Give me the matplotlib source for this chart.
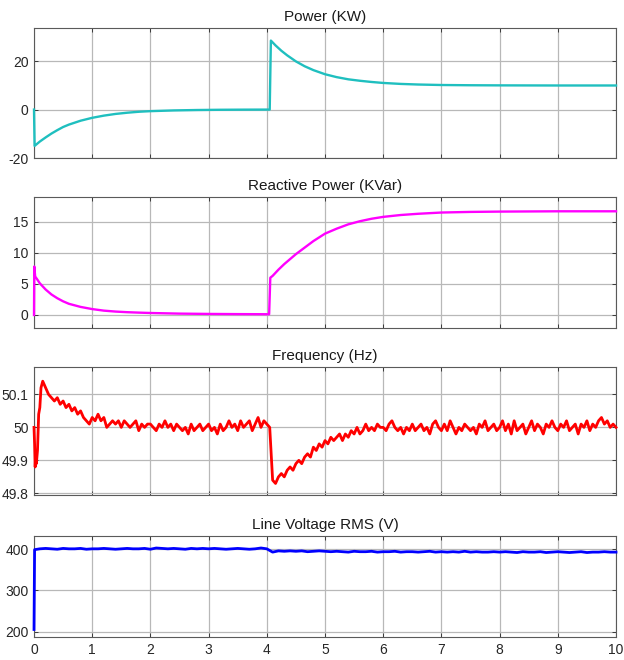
import matplotlib
matplotlib.use('Agg')
import matplotlib.pyplot as plt
import numpy as np

plt.rcParams['font.family'] = ['Liberation Sans', 'DejaVu Sans']

# Power (KW)
power_t = [0, 0.01, 0.1, 0.2, 0.3, 0.4, 0.5, 0.6, 0.8, 1.0, 1.2, 1.4, 1.6, 1.8, 2.0, 2.4, 2.8, 3.2, 3.6,
           4.05, 4.07, 4.15, 4.25, 4.35, 4.5, 4.65, 4.8, 5.0, 5.2, 5.4, 5.6, 5.8, 6.0, 6.3, 6.6, 7.0, 7.5,
           8.0, 9.0, 10.0]
power_v = [0, -15.0, -13.2, -11.5, -9.9, -8.5, -7.2, -6.2, -4.6, -3.4, -2.5, -1.8, -1.3, -0.9, -0.65,
           -0.35, -0.18, -0.08, -0.03,
           0, 28.5, 26.5, 24.3, 22.4, 19.9, 17.9, 16.3, 14.6, 13.4, 12.5, 11.9, 11.4, 11.0, 10.6, 10.35,
           10.15, 10.05, 10.0, 9.95, 9.95]

# Reactive power (KVar)
react_t = [0, 0.005, 0.02, 0.05, 0.1, 0.2, 0.3, 0.4, 0.5, 0.6, 0.8, 1.0, 1.2, 1.4, 1.6, 1.8, 2.0, 2.5,
           3.0, 3.5, 4.04, 4.06, 4.1, 4.2, 4.3, 4.4, 4.5, 4.6, 4.8, 5.0, 5.2, 5.4, 5.6, 5.8, 6.0, 6.3,
           6.6, 7.0, 7.5, 8.0, 9.0, 10.0]
react_v = [0, 7.8, 6.2, 5.8, 5.1, 4.1, 3.3, 2.7, 2.2, 1.8, 1.3, 0.95, 0.7, 0.55, 0.45, 0.38, 0.32, 0.22,
           0.17, 0.14, 0.12, 6.0, 6.3, 7.3, 8.2, 9.0, 9.8, 10.5, 11.9, 13.1, 13.9, 14.6, 15.1, 15.5, 15.8,
           16.1, 16.3, 16.5, 16.6, 16.65, 16.7, 16.7]

# Frequency (Hz): first transient, then samples every 0.05 s
freq_start_t = [0.0, 0.01, 0.02, 0.03, 0.04, 0.06, 0.08, 0.1, 0.12]
freq_start_v = [50.00, 49.95, 49.88, 49.92, 49.89, 49.93, 50.04, 50.06, 50.12]
freq_t = np.round(np.arange(0.15, 10.001, 0.05), 2)
freq_v = [50.14, 50.12, 50.10, 50.09, 50.08, 50.09, 50.07,
          50.08, 50.06, 50.07, 50.05, 50.06, 50.04, 50.05, 50.03, 50.02, 50.01,
          50.03, 50.02, 50.04, 50.02, 50.03, 50.00, 50.01, 50.02, 50.01, 50.02,
          50.00, 50.02, 50.01, 50.00, 50.01, 50.02, 49.99, 50.01, 50.00, 50.01,
          50.01, 50.00, 49.99, 50.01, 50.00, 50.02, 50.00, 50.01, 49.99, 50.01,
          50.00, 49.99, 50.00, 49.98, 50.01, 49.99, 50.00, 50.01, 49.99, 50.00,
          50.01, 49.99, 50.00, 49.98, 50.01, 49.99, 50.00, 50.02, 50.00, 50.01,
          49.99, 50.02, 50.00, 50.01, 50.02, 49.99, 50.01, 50.03, 50.00, 50.02,
          50.01, 50.00, 49.84, 49.83, 49.85, 49.86, 49.85, 49.87, 49.88, 49.87,
          49.89, 49.90, 49.89, 49.91, 49.92, 49.91, 49.94, 49.93, 49.95, 49.94,
          49.96, 49.95, 49.97, 49.96, 49.97, 49.98, 49.96, 49.98, 49.97, 49.99,
          49.98, 50.00, 49.98, 49.99, 50.01, 49.99, 50.00, 49.99, 50.01, 50.00,
          50.00, 49.99, 50.01, 50.02, 50.00, 49.99, 50.00, 49.98, 50.00, 49.99,
          50.01, 49.99, 50.00, 50.01, 49.99, 50.00, 49.98, 50.01, 50.02, 50.00,
          49.99, 50.01, 49.99, 50.02, 50.00, 49.98, 50.00, 49.99, 50.01, 50.00,
          49.99, 50.00, 49.98, 50.01, 50.00, 50.02, 49.99, 50.00, 50.01, 49.99,
          50.00, 50.02, 49.99, 50.01, 49.98, 50.02, 49.99, 50.00, 50.01, 49.98,
          50.00, 50.02, 49.99, 50.01, 50.00, 49.98, 50.01, 50.00, 50.02, 50.00,
          49.99, 50.01, 50.00, 50.02, 49.99, 50.00, 50.01, 49.98, 50.01, 50.00,
          50.02, 49.99, 50.01, 50.00, 50.02, 50.03, 50.01, 50.02, 50.00, 50.01,
          50.00]

# Line voltage RMS (V)
volt_t = np.concatenate([[0.0, 0.01], np.round(np.arange(0.1, 10.001, 0.1), 2)])
volt_v = [205, 399,
          401, 402, 401, 400, 402, 401, 401, 402, 400, 401,
          401, 402, 401, 400, 401, 402, 401, 401, 402, 400,
          403, 402, 401, 402, 401, 400, 402, 401, 402, 401,
          402, 401, 400, 401, 402, 401, 400, 401, 403, 401,
          393, 396, 395, 396, 395, 396, 394, 395, 396, 395,
          394, 395, 394, 393, 395, 394, 394, 395, 393, 394,
          394, 395, 393, 394, 394, 393, 394, 395, 393, 394,
          393, 394, 393, 395, 393, 394, 393, 393, 394, 393,
          394, 393, 392, 394, 393, 393, 394, 392, 393, 394,
          393, 392, 393, 394, 392, 393, 393, 394, 393, 393]

panels = [
    ('Power (KW)', power_t, power_v, '#1fbfbf', (-20, 33.7), [-20, 0, 20], 1.7),
    ('Reactive Power (KVar)', react_t, react_v, '#ff00ff', (-2.1, 19), [0, 5, 10, 15], 1.7),
    ('Frequency (Hz)', np.concatenate([freq_start_t, freq_t]), freq_start_v + freq_v,
     '#ff0000', (49.795, 50.184), [49.8, 49.9, 50, 50.1], 2.0),
    ('Line Voltage RMS (V)', volt_t, volt_v, '#0000ff', (186, 433), [200, 300, 400], 2.0),
]
# axes boxes in figure fractions: left, bottom, width, height
boxes = [
    (0.0545, 0.7606, 0.9327, 0.197),
    (0.0545, 0.503, 0.9327, 0.1985),
    (0.0545, 0.25, 0.9327, 0.1944),
    (0.0545, 0.0344, 0.9327, 0.154),
]

fig = plt.figure(figsize=(6.24, 6.6), dpi=100)
for i, (title, t, v, color, ylim, yticks, lw) in enumerate(panels):
    ax = fig.add_axes(boxes[i])
    ax.plot(t, v, color=color, linewidth=lw, clip_on=False, zorder=3)
    ax.set_xlim(0, 10)
    ax.set_ylim(*ylim)
    ax.set_xticks(range(0, 11))
    ax.set_yticks(yticks)
    ax.set_yticklabels([f'{y:g}' for y in yticks])
    if i < 3:
        ax.set_xticklabels([])
    ax.grid(True, color='#b8b8b8', linewidth=0.9)
    ax.tick_params(direction='in', top=True, right=True, length=3, width=0.6,
                   labelsize=10, colors='#262626', pad=4)
    for s in ax.spines.values():
        s.set_color('#5a5a5a')
        s.set_linewidth(0.8)
    ax.set_title(title, fontsize=11, color='#1a1a1a', pad=5)

fig.savefig('out.png', dpi=100)
